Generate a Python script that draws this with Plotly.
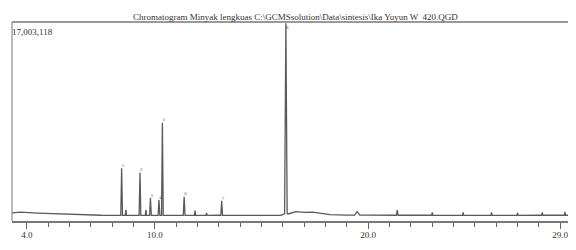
import plotly.graph_objects as go

# ---- data (intensities in counts) ----
baseline_rt = [3.3, 3.7, 4.5, 5.5, 6.5, 7.5, 8.2, 9.0, 10.0, 11.0, 12.0, 13.0, 14.0, 15.0, 15.9,
               16.3, 16.6, 17.0, 17.4, 17.8, 18.2, 19.0, 20.0, 22.0, 24.0, 26.0, 28.0, 29.74]
baseline_int = [700000, 750000, 680000, 600000, 520000, 490000, 480000, 480000, 480000, 480000,
                480000, 490000, 480000, 480000, 480000,
                620000, 800000, 730000, 760000, 620000, 540000, 500000, 500000, 490000, 480000,
                480000, 490000, 490000]

peak_rt = [8.44, 8.64, 9.30, 9.58, 9.79, 10.19, 10.35, 11.37, 11.88, 12.42, 13.13,
           16.14, 19.48, 21.36, 23.0, 24.45, 25.78, 27.0, 28.16, 29.22]
peak_int = [4500000, 960000, 4140000, 960000, 1970000, 1790000, 8400000, 2080000, 900000,
            680000, 1730000, 16900000, 800000, 940000, 730000, 730000, 730000, 680000,
            730000, 770000]
peak_halfwidth = [0.04, 0.03, 0.04, 0.03, 0.04, 0.04, 0.04, 0.04, 0.03, 0.03, 0.04,
                  0.06, 0.12, 0.04, 0.03, 0.03, 0.03, 0.03, 0.03, 0.03]

labeled_rt = [8.44, 9.30, 9.79, 10.19, 10.35, 11.37, 13.13, 16.14]
labeled_int = [4500000, 4140000, 1970000, 1790000, 8400000, 2080000, 1730000, 16300000]
peak_labels = ["1", "2", "3", "4", "5", "6", "7", "8"]

tick_vals = [4.0, 10.0, 20.0, 29.0]
tick_text = ["4.0", "10.0", "20.0", "29.0"]

y_max = 17003118
title_text = "Chromatogram Minyak lengkuas C:\\GCMSsolution\\Data\\sintesis\\Ika Yuyun W  420.QGD"


def base_at(t):
    # nearest baseline vertex
    i = min(range(len(baseline_rt)), key=lambda k: abs(baseline_rt[k] - t))
    return baseline_int[i]


base_pts = list(zip(baseline_rt, baseline_int))
peak_spans = [(t - w, t + w) for t, w in zip(peak_rt, peak_halfwidth)]
pts = [p for p in base_pts if not any(a < p[0] < c for a, c in peak_spans)]
for t, h, w in zip(peak_rt, peak_int, peak_halfwidth):
    b = base_at(t)
    pts += [(t - w, b), (t, h), (t + w, b)]
pts.sort(key=lambda p: p[0])
xs = [p[0] for p in pts]
ys = [p[1] for p in pts]

fig = go.Figure()
fig.add_trace(go.Scatter(x=xs, y=ys, mode="lines",
                         line=dict(color="#5a5a5a", width=1.3), hoverinfo="skip"))
fig.add_trace(go.Scatter(x=labeled_rt, y=labeled_int, mode="text", text=peak_labels,
                         textposition="top right",
                         textfont=dict(family="Liberation Serif", size=5, color="#555555"),
                         hoverinfo="skip"))

serif = "Liberation Serif"
# the page body has an 8px default margin, so the figure is sized to fill the rest
fig.update_layout(
    width=568, height=242,
    margin=dict(l=4, r=0, t=14, b=29, autoexpand=False),
    paper_bgcolor="white", plot_bgcolor="white",
    showlegend=False,
    xaxis=dict(range=[3.3, 29.74], tickmode="array", tickvals=tick_vals, ticktext=tick_text,
               ticks="outside", ticklen=6, tickcolor="#666666", tickwidth=1,
               minor=dict(tickmode="linear", tick0=0, dtick=1, ticks="outside", ticklen=4,
                          tickcolor="#666666"),
               showgrid=False, zeroline=False, showline=True, linecolor="#777777", linewidth=1.5,
               automargin=False, ticklabelstandoff=-2,
               tickfont=dict(family=serif, size=9, color="#333333")),
    yaxis=dict(range=[0, y_max], showticklabels=False, showgrid=False, zeroline=False,
               showline=False, ticks="", automargin=False),
    shapes=[
        dict(type="line", xref="paper", yref="paper", x0=0, x1=1, y0=1, y1=1,
             line=dict(color="#777777", width=1.5)),
        dict(type="line", xref="paper", yref="paper", x0=0, x1=0, y0=0, y1=1,
             line=dict(color="#777777", width=1)),
    ],
    annotations=[
        dict(text=title_text, xref="paper", yref="paper", x=0.5035, y=1, xanchor="center",
             yanchor="bottom", showarrow=False, yshift=-2,
             font=dict(family=serif, size=9, color="#333333")),
        dict(text="17,003,118", xref="paper", yref="paper", x=0.0, y=1, xanchor="left",
             yanchor="top", showarrow=False, xshift=-2, yshift=-3,
             font=dict(family=serif, size=9, color="#333333")),
        dict(text="TIC", xref="paper", yref="paper", x=1.0, y=1, xanchor="left",
             yanchor="top", showarrow=False, xshift=-9, yshift=-3,
             font=dict(family=serif, size=9, color="#333333")),
        dict(text="min", xref="paper", yref="paper", x=1.0, y=0, xanchor="left",
             yanchor="top", showarrow=False, xshift=-6, yshift=-20,
             font=dict(family=serif, size=6, color="#333333")),
    ],
)

fig.write_html("out.html")
